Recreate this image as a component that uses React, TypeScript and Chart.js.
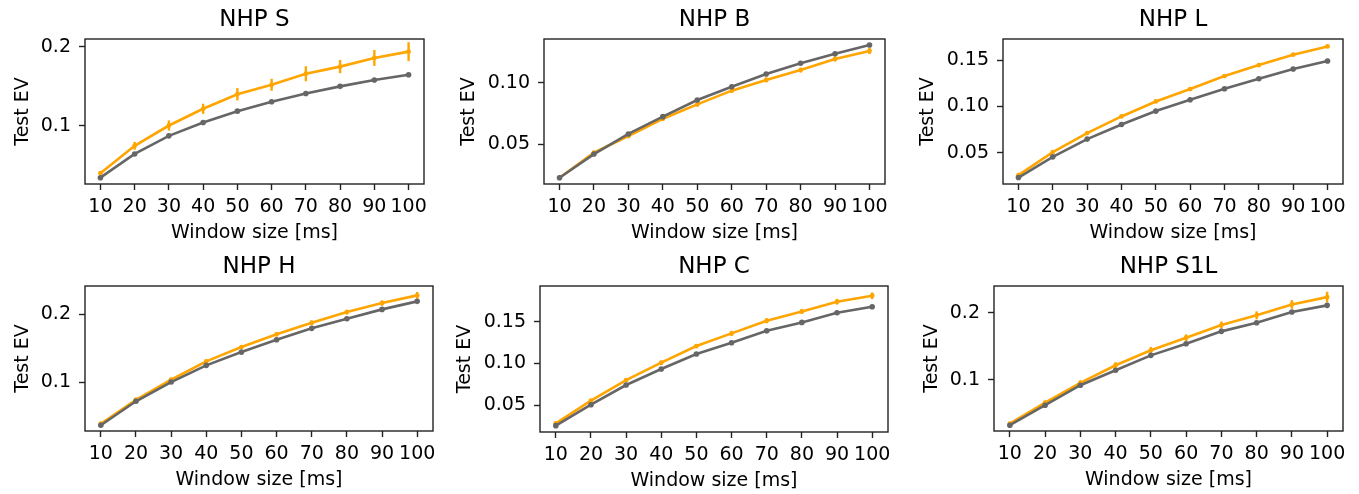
import React, { useEffect, useRef } from "react";
import { Chart, registerables } from "chart.js";
Chart.register(...registerables);

// ---------- data ----------
const windowSizes = [10, 20, 30, 40, 50, 60, 70, 80, 90, 100];
const xTickLabels = ["10", "20", "30", "40", "50", "60", "70", "80", "90", "100"];
const xLabel = "Window size [ms]";
const yLabel = "Test EV";

// NHP S
const sOrange = [0.040, 0.0747, 0.1004, 0.1216, 0.140, 0.152, 0.166, 0.175, 0.186, 0.194];
const sOrangeErr = [0.002, 0.005, 0.0064, 0.0064, 0.0078, 0.0076, 0.0095, 0.0083, 0.010, 0.012];
const sGray = [0.0343, 0.0644, 0.0873, 0.1042, 0.1186, 0.1305, 0.141, 0.150, 0.158, 0.1648];
const sYTicks = [0.1, 0.2];
const sYTickLabels = ["0.1", "0.2"];

// NHP B
const bOrange = [0.0225, 0.0429, 0.0565, 0.0706, 0.0823, 0.0935, 0.1022, 0.1103, 0.1193, 0.1258];
const bOrangeErr = [0.001, 0.0015, 0.0015, 0.0015, 0.0018, 0.0018, 0.002, 0.002, 0.002, 0.0025];
const bGray = [0.0225, 0.0418, 0.0582, 0.0723, 0.0859, 0.0967, 0.1071, 0.1158, 0.1236, 0.1307];
const bYTicks = [0.05, 0.10];
const bYTickLabels = ["0.05", "0.10"];

// NHP L
const lOrange = [0.0257, 0.0506, 0.0712, 0.0892, 0.1054, 0.1188, 0.1329, 0.1448, 0.156, 0.165];
const lOrangeErr = [0.0008, 0.001, 0.001, 0.001, 0.001, 0.001, 0.001, 0.001, 0.0012, 0.0015];
const lGray = [0.0231, 0.0455, 0.0647, 0.0805, 0.095, 0.1073, 0.1192, 0.130, 0.1405, 0.1492];
const lYTicks = [0.05, 0.10, 0.15];
const lYTickLabels = ["0.05", "0.10", "0.15"];

// NHP H
const hOrange = [0.0391, 0.0744, 0.1038, 0.1309, 0.1519, 0.1706, 0.1876, 0.2033, 0.2166, 0.2279];
const hOrangeErr = [0.001, 0.002, 0.002, 0.0025, 0.003, 0.003, 0.0035, 0.0035, 0.004, 0.005];
const hGray = [0.0368, 0.0721, 0.1004, 0.125, 0.1445, 0.1626, 0.1794, 0.1935, 0.2073, 0.2191];
const hYTicks = [0.1, 0.2];
const hYTickLabels = ["0.1", "0.2"];

// NHP C
const cOrange = [0.028, 0.0552, 0.080, 0.1008, 0.1208, 0.136, 0.1512, 0.1624, 0.174, 0.1812];
const cOrangeErr = [0.001, 0.0015, 0.002, 0.0025, 0.0025, 0.003, 0.003, 0.003, 0.0035, 0.004];
const cGray = [0.0252, 0.0504, 0.074, 0.0932, 0.1112, 0.1248, 0.1392, 0.1492, 0.1608, 0.168];
const cYTicks = [0.05, 0.10, 0.15];
const cYTickLabels = ["0.05", "0.10", "0.15"];

// NHP S1L
const s1lOrange = [0.0344, 0.0657, 0.0951, 0.1215, 0.1438, 0.1626, 0.1815, 0.196, 0.2123, 0.2232];
const s1lOrangeErr = [0.002, 0.003, 0.004, 0.0045, 0.005, 0.005, 0.0055, 0.006, 0.0065, 0.008];
const s1lGray = [0.032, 0.0619, 0.0917, 0.114, 0.1363, 0.1536, 0.1721, 0.1849, 0.2009, 0.2109];
const s1lYTicks = [0.1, 0.2];
const s1lYTickLabels = ["0.1", "0.2"];

// ---------- styling / layout ----------
const ORANGE = "#FFA500";
const GRAY = "#666666";
const FRAME = "#222222";
const FONT = "'DejaVu Sans', sans-serif";

const LEFT_W = 90;
const TITLE_H = 39;
const XAXIS_H = 62;
const RIGHT_PAD = 8;

type PanelCfg = {
  title: string;
  orange: number[];
  orangeErr: number[];
  gray: number[];
  yTicks: number[];
  yTickLabels: string[];
  yMin: number;
  yMax: number;
  frame: { l: number; r: number; t: number; b: number };
  yLabelOffset: number;
};

const panels: PanelCfg[] = [
  { title: "NHP S", orange: sOrange, orangeErr: sOrangeErr, gray: sGray, yTicks: sYTicks, yTickLabels: sYTickLabels, yMin: 0.0263, yMax: 0.210, frame: { l: 84.5, r: 424, t: 39, b: 184 }, yLabelOffset: 62 },
  { title: "NHP B", orange: bOrange, orangeErr: bOrangeErr, gray: bGray, yTicks: bYTicks, yTickLabels: bYTickLabels, yMin: 0.0174, yMax: 0.1356, frame: { l: 544, r: 885, t: 39, b: 184 }, yLabelOffset: 75 },
  { title: "NHP L", orange: lOrange, orangeErr: lOrangeErr, gray: lGray, yTicks: lYTicks, yTickLabels: lYTickLabels, yMin: 0.0161, yMax: 0.173, frame: { l: 1003, r: 1343, t: 39, b: 184 }, yLabelOffset: 75 },
  { title: "NHP H", orange: hOrange, orangeErr: hOrangeErr, gray: hGray, yTicks: hYTicks, yTickLabels: hYTickLabels, yMin: 0.0284, yMax: 0.2417, frame: { l: 85, r: 433, t: 286, b: 431 }, yLabelOffset: 62 },
  { title: "NHP C", orange: cOrange, orangeErr: cOrangeErr, gray: cGray, yTicks: cYTicks, yTickLabels: cYTickLabels, yMin: 0.0176, yMax: 0.1929, frame: { l: 540, r: 888, t: 286, b: 432 }, yLabelOffset: 75 },
  { title: "NHP S1L", orange: s1lOrange, orangeErr: s1lOrangeErr, gray: s1lGray, yTicks: s1lYTicks, yTickLabels: s1lYTickLabels, yMin: 0.0234, yMax: 0.2398, frame: { l: 994, r: 1343, t: 286, b: 431 }, yLabelOffset: 62 },
];

function Panel({ cfg }: { cfg: PanelCfg }) {
  const ref = useRef<HTMLCanvasElement | null>(null);
  const { l, r, t, b } = cfg.frame;
  const left = l - LEFT_W;
  const top = t - TITLE_H;
  const width = LEFT_W + (r - l) + RIGHT_PAD;
  const height = TITLE_H + (b - t) + XAXIS_H;

  useEffect(() => {
    if (!ref.current) return;
    const yTitleFont = 19;
    const yTitleLH = yTitleFont * 1.2;
    const yTitlePadTop = LEFT_W - cfg.yLabelOffset - yTitleLH / 2;

    const plugin = {
      id: "errAndFrame",
      afterDatasetDraw(chart: any, args: any) {
        if (args.index !== 1) return;
        const ctx = chart.ctx;
        const xs = chart.scales.x;
        const ys = chart.scales.y;
        ctx.save();
        ctx.strokeStyle = ORANGE;
        ctx.lineWidth = 2.4;
        cfg.orange.forEach((m, i) => {
          const px = xs.getPixelForValue(windowSizes[i]);
          ctx.beginPath();
          ctx.moveTo(px, ys.getPixelForValue(m - cfg.orangeErr[i]));
          ctx.lineTo(px, ys.getPixelForValue(m + cfg.orangeErr[i]));
          ctx.stroke();
        });
        ctx.restore();
      },
      afterDraw(chart: any) {
        const ctx = chart.ctx;
        const a = chart.chartArea;
        ctx.save();
        ctx.strokeStyle = FRAME;
        ctx.lineWidth = 1.4;
        ctx.strokeRect(a.left, a.top, a.right - a.left, a.bottom - a.top);
        ctx.restore();
      },
    };

    const chart = new Chart(ref.current, {
      type: "line",
      data: {
        datasets: [
          {
            label: "gray",
            data: windowSizes.map((x, i) => ({ x, y: cfg.gray[i] })),
            borderColor: GRAY,
            backgroundColor: GRAY,
            borderWidth: 2.6,
            pointRadius: 2.8,
            pointBorderWidth: 0,
            pointBackgroundColor: GRAY,
            tension: 0,
          },
          {
            label: "orange",
            data: windowSizes.map((x, i) => ({ x, y: cfg.orange[i] })),
            borderColor: ORANGE,
            backgroundColor: ORANGE,
            borderWidth: 2.6,
            pointRadius: 2.4,
            pointBorderWidth: 0,
            pointBackgroundColor: ORANGE,
            tension: 0,
          },
        ],
      },
      options: {
        responsive: false,
        animation: false,
        devicePixelRatio: 1,
        layout: { padding: { left: 0, right: RIGHT_PAD, top: 0, bottom: 0 } },
        plugins: {
          legend: { display: false },
          tooltip: { enabled: false },
          title: {
            display: true,
            text: cfg.title,
            fullSize: false,
            color: "#000",
            font: { family: FONT, size: 23, weight: "normal", lineHeight: 1.2 },
            padding: { top: 6, bottom: 5.4 },
          },
        },
        scales: {
          x: {
            type: "linear",
            min: 5.5,
            max: 104.5,
            afterBuildTicks: (s: any) => {
              s.ticks = windowSizes.map((v) => ({ value: v }));
            },
            afterFit: (s: any) => {
              s.height = XAXIS_H;
              s.paddingLeft = 0;
              s.paddingRight = 0;
            },
            ticks: {
              color: "#000",
              font: { family: FONT, size: 19, lineHeight: 1.2 },
              padding: 5.6,
              maxRotation: 0,
              autoSkip: false,
              callback: (v: any) => xTickLabels[windowSizes.indexOf(Number(v))] ?? "",
            },
            grid: { display: true, drawOnChartArea: false, drawTicks: true, tickLength: 6, tickWidth: 1.4, tickColor: FRAME },
            border: { display: false },
            title: {
              display: true,
              text: xLabel,
              color: "#000",
              font: { family: FONT, size: 19, lineHeight: 1.2 },
              padding: { top: 0, bottom: 2 },
            },
          },
          y: {
            type: "linear",
            min: cfg.yMin,
            max: cfg.yMax,
            afterBuildTicks: (s: any) => {
              s.ticks = cfg.yTicks.map((v) => ({ value: v }));
            },
            afterFit: (s: any) => {
              s.width = LEFT_W;
              s.paddingTop = 0;
              s.paddingBottom = 0;
            },
            ticks: {
              color: "#000",
              font: { family: FONT, size: 19, lineHeight: 1.2 },
              padding: 8,
              callback: (v: any, idx: number) => cfg.yTickLabels[idx] ?? "",
            },
            grid: { display: true, drawOnChartArea: false, drawTicks: true, tickLength: 6, tickWidth: 1.4, tickColor: FRAME },
            border: { display: false },
            title: {
              display: true,
              text: yLabel,
              color: "#000",
              font: { family: FONT, size: yTitleFont, lineHeight: 1.2 },
              padding: { top: yTitlePadTop, bottom: 0 },
            },
          },
        },
      } as any,
      plugins: [plugin],
    });
    return () => chart.destroy();
  }, [cfg]);

  return (
    <canvas
      ref={ref}
      width={width}
      height={height}
      style={{ position: "absolute", left, top, width, height, display: "block" }}
    />
  );
}

export default function App() {
  return (
    <div style={{ position: "absolute", left: 0, top: 0, width: 1359, height: 494, background: "#fff", overflow: "hidden" }}>
      {panels.map((p) => (
        <Panel key={p.title} cfg={p} />
      ))}
    </div>
  );
}
